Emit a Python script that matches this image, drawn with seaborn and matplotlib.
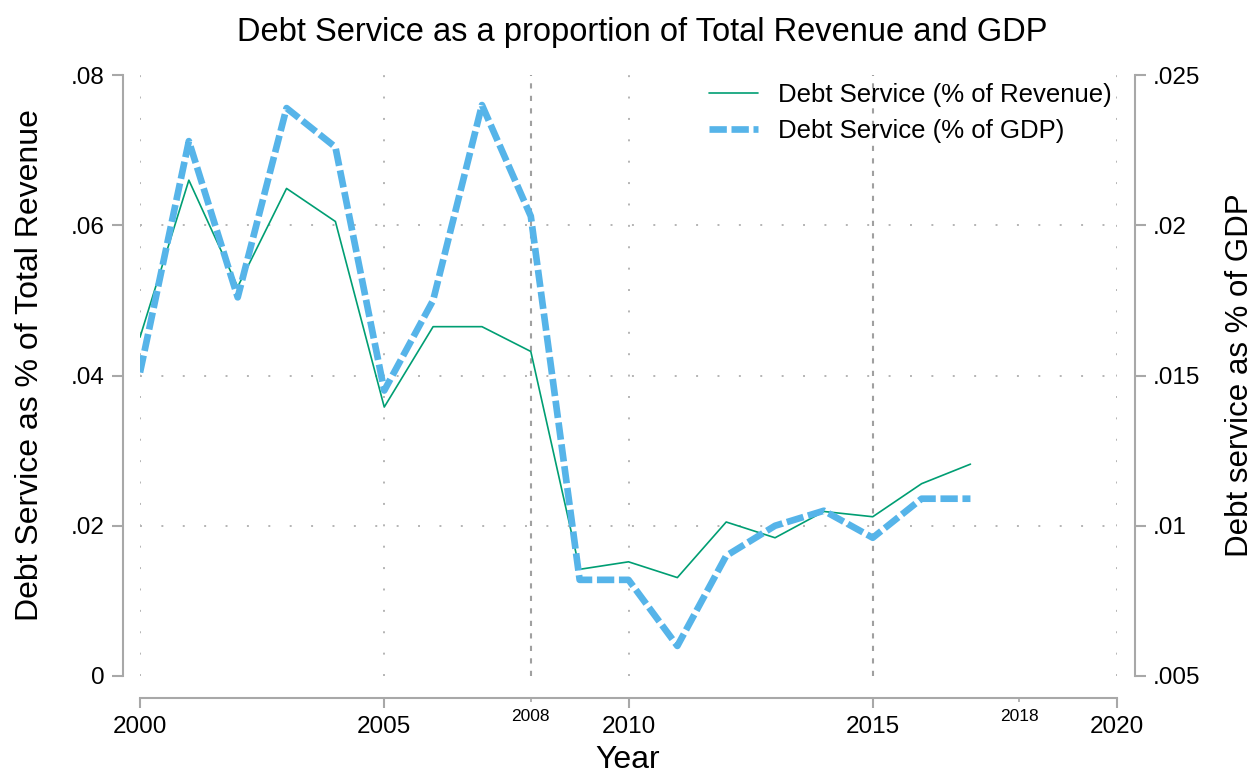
import numpy as np
import pandas as pd
import matplotlib
matplotlib.use('Agg')
import matplotlib.pyplot as plt
import seaborn as sns

# data
years = list(range(2000, 2018))
rev_share = [0.0451, 0.0660, 0.0518, 0.0649, 0.0605, 0.0358, 0.0465, 0.0465, 0.0432,
             0.0142, 0.0152, 0.0131, 0.0205, 0.0184, 0.0219, 0.0212, 0.0256, 0.0282]
gdp_share = [0.0151, 0.0228, 0.0176, 0.0239, 0.0226, 0.0145, 0.0175, 0.0240, 0.0203,
             0.0082, 0.0082, 0.0060, 0.0090, 0.0100, 0.0105, 0.0096, 0.0109, 0.0109]

x_major = [2000, 2005, 2010, 2015, 2020]
x_minor = [2008, 2018]
x_lines = [2008, 2015]
x_grid = [2000, 2005, 2010, 2020]
left_ticks = [0, 0.02, 0.04, 0.06, 0.08]
left_labels = ['0', '.02', '.04', '.06', '.08']
right_ticks = [0.005, 0.01, 0.015, 0.02, 0.025]
right_labels = ['.005', '.01', '.015', '.02', '.025']
series_names = ['Debt Service (% of Revenue)', 'Debt Service (% of GDP)']

df = pd.DataFrame({'Year': years, 'rev': rev_share, 'gdp': gdp_share})

sns.set_style('white')
plt.rcParams['font.family'] = ['Liberation Sans', 'DejaVu Sans']
plt.rcParams['text.color'] = 'black'
plt.rcParams['axes.labelcolor'] = 'black'
plt.rcParams['xtick.color'] = 'black'
plt.rcParams['ytick.color'] = 'black'

green = '#009E73'
blue = '#56B4E9'
axis_grey = '#a8a8a8'

fig = plt.figure(figsize=(12.53, 7.76), dpi=100)
ax = fig.add_axes([140 / 1253, 1 - 676 / 776, 977 / 1253, 601 / 776])
ax2 = ax.twinx()

# grid and reference lines
for y in left_ticks[1:-1]:
    ax.axhline(y, color='#b4b4b4', lw=1.4, ls=(0, (1, 10)), zorder=0)
for x in x_grid:
    ax.axvline(x, color='#b4b4b4', lw=1.4, ls=(0, (1, 10)), zorder=0)
for x in x_lines:
    ax.axvline(x, color='#a0a0a0', lw=1.5, ls=(0, (2.5, 3.5)), zorder=0)

sns.lineplot(data=df, x='Year', y='rev', ax=ax, color=green, linewidth=1.2)
sns.lineplot(data=df, x='Year', y='gdp', ax=ax2, color=blue, linewidth=4.8,
             linestyle=(0, (2.6, 0.7)))

ax.set_xlim(2000, 2020)
ax.set_ylim(0, 0.08)
ax2.set_ylim(0.005, 0.025)

for a in (ax, ax2):
    for s in a.spines.values():
        s.set_color(axis_grey)
        s.set_linewidth(1.5)
ax.spines['top'].set_visible(False)
ax.spines['right'].set_visible(False)
ax.spines['left'].set_position(('outward', 12.5))
ax.spines['bottom'].set_position(('outward', 15.6))
ax.spines['left'].set_bounds(0, 0.08)
ax.spines['bottom'].set_bounds(2000, 2020)
ax2.spines['top'].set_visible(False)
ax2.spines['left'].set_visible(False)
ax2.spines['bottom'].set_visible(False)
ax2.spines['right'].set_position(('outward', 13))
ax2.spines['right'].set_bounds(0.005, 0.025)

ax.set_xticks(x_major)
ax.set_xticklabels([str(v) for v in x_major])
ax.set_xticks(x_minor, minor=True)
ax.set_xticklabels([str(v) for v in x_minor], minor=True)
ax.set_yticks(left_ticks)
ax.set_yticklabels(left_labels)
ax2.set_yticks(right_ticks)
ax2.set_yticklabels(right_labels)

ax.tick_params(axis='x', which='major', length=7, width=1.5, color=axis_grey,
               labelsize=17.5, pad=6, direction='out', bottom=True)
ax.tick_params(axis='x', which='minor', length=3, width=1.2, color=axis_grey,
               labelsize=12.5, pad=5, direction='out', bottom=True)
ax.tick_params(axis='y', length=8, width=1.5, color=axis_grey, labelsize=17.5,
               pad=5, direction='out', left=True)
ax2.tick_params(axis='y', length=8, width=1.5, color=axis_grey, labelsize=17.5,
                pad=5, direction='out', right=True)

ax.set_xlabel('Year', fontsize=23)
ax.set_ylabel('Debt Service as % of Total Revenue', fontsize=23)
ax2.set_ylabel('Debt service as % of GDP', fontsize=22.5)
ax.xaxis.label.set_va('center')
ax.yaxis.label.set_va('center')
ax2.yaxis.label.set_va('center')
ax.xaxis.set_label_coords((628 - 140) / 977, (676 - 760) / 601)
ax.yaxis.set_label_coords((30 - 140) / 977, (676 - 365) / 601)
ax2.yaxis.set_label_coords((1240 - 140) / 977, (676 - 375) / 601)

fig.text(642 / 1253, 1 - 33 / 776, 'Debt Service as a proportion of Total Revenue and GDP',
         ha='center', va='center', fontsize=23.5)

handles = [ax.get_lines()[-1], ax2.get_lines()[-1]]
leg = ax2.legend(handles, series_names, loc='upper left', frameon=False,
                 bbox_to_anchor=(686 / 1253, 1 - 60 / 776), bbox_transform=fig.transFigure,
                 fontsize=18.5, handlelength=1.9, handletextpad=0.8, labelspacing=0.45)

fig.savefig('out.png', dpi=100)
